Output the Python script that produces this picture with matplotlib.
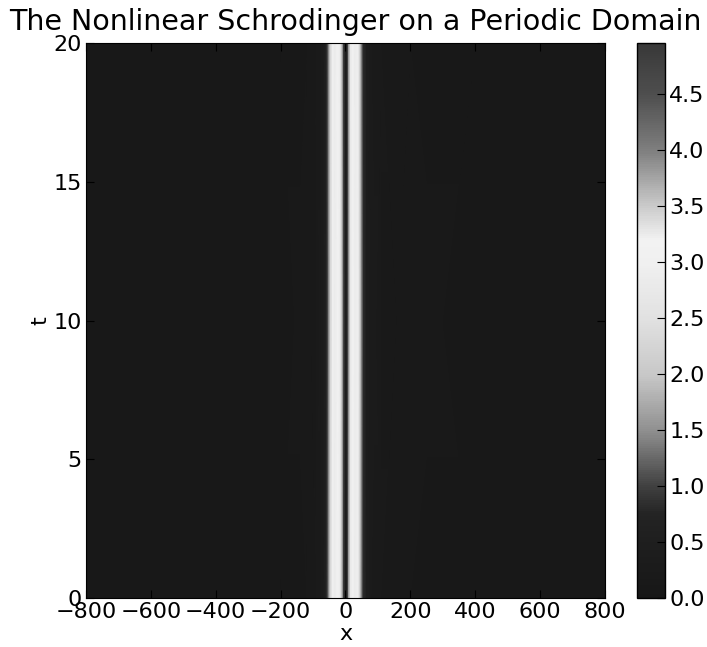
import numpy as np
import matplotlib
matplotlib.use("Agg")
import matplotlib.pyplot as plt
from matplotlib.colors import LinearSegmentedColormap

# Cross-section of |u| along x; constant along t
x_pts = [-800, -400, -200, -120, -90, -75, -65, -58, -52, -47, -40, -32, -24, -16, -10, -5,
         1, 6, 11, 16, 22, 30, 38, 44, 49, 55, 65, 80, 110, 200, 400, 800]
amp = [0.10, 0.10, 0.11, 0.13, 0.20, 0.30, 0.42, 0.75, 1.4, 2.2, 3.0, 3.25, 3.15, 2.8, 1.8, 0.9,
       0.45, 0.8, 1.8, 2.8, 3.15, 3.25, 3.0, 2.3, 1.5, 0.8, 0.42, 0.3, 0.18, 0.12, 0.10, 0.10]
t_pts = [0, 20]

cbar_ticks = [0.0, 0.5, 1.0, 1.5, 2.0, 2.5, 3.0, 3.5, 4.0, 4.5]
vmin, vmax = 0.0, 4.96

# grey colormap rising to white near 3.2 and falling back to dark grey
cm_pos = [0.0, 0.1, 0.15, 0.2, 0.3, 0.4, 0.5, 0.6, 0.645, 0.705, 0.806, 0.907, 1.0]
cm_val = [0.09, 0.12, 0.14, 0.25, 0.56, 0.78, 0.88, 0.94, 0.95, 0.80, 0.50, 0.31, 0.22]
cmap = LinearSegmentedColormap.from_list("nls", [(p, (v, v, v)) for p, v in zip(cm_pos, cm_val)])

plt.rcParams['font.family'] = 'DejaVu Sans'
fig = plt.figure(figsize=(7.07, 6.47), dpi=100)
ax = fig.add_axes([0.1216, 0.0757, 0.7341, 0.8578])
cax = fig.add_axes([0.901, 0.0757, 0.0396, 0.8578])

X, T = np.meshgrid(np.array(x_pts, float), np.array(t_pts, float))
Z = np.tile(np.array(amp, float), (len(t_pts), 1))
mesh = ax.pcolormesh(X, T, Z, cmap=cmap, vmin=vmin, vmax=vmax, shading='gouraud', rasterized=True)
ax.set_xlim(-800, 800)
ax.set_ylim(0, 20)
ax.set_xticks([-800, -600, -400, -200, 0, 200, 400, 600, 800])
ax.set_yticks([0, 5, 10, 15, 20])
ax.tick_params(direction='in', top=True, right=True, labelsize=16, length=6, pad=3)
ax.set_xlabel('x', fontsize=16, labelpad=1)
ax.set_ylabel('t', fontsize=16, labelpad=2)
fig.text(0.502, 0.966, 'The Nonlinear Schrodinger on a Periodic Domain', fontsize=20.5,
         ha='center', va='center')

cb = fig.colorbar(mesh, cax=cax, ticks=cbar_ticks, format='%.1f')
cb.ax.tick_params(direction='in', labelsize=16, length=6, pad=3)
cb.outline.set_linewidth(1.0)

fig.savefig('out.png', dpi=100)
